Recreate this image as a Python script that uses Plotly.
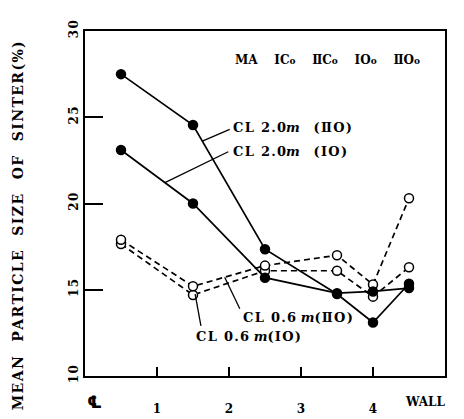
import numpy as np
import plotly.graph_objects as go

# ---- data ----
positions = [0.5, 1.5, 2.5, 3.5, 4.0, 4.5]
cl20_IIO = [27.5, 24.55, 17.35, 14.75, 13.1, 15.35]
cl20_IO = [23.1, 20.0, 15.7, 14.8, 14.9, 15.1]
cl06_IIO = [17.9, 15.2, 16.4, 17.0, 15.3, 20.3]
cl06_IO = [17.65, 14.7, 16.1, 16.1, 14.6, 16.3]
x_ticks = [1, 2, 3, 4]
x_tick_labels = ["1", "2", "3", "4"]
y_ticks = [10, 15, 20, 25, 30]
y_tick_labels = ["1\u200a0", "1\u200a5", "2\u200a0", "2\u200a5", "3\u200a0"]

FONT = "DejaVu Serif"
BLACK = "black"
HS = "\u200a"

def spaced(s):
    return HS.join(s)

fig = go.Figure()

def add_series(y, dashed, filled):
    fig.add_trace(go.Scatter(
        x=positions, y=y, mode="lines+markers",
        line=dict(color=BLACK, width=1.7, dash="6px,4px" if dashed else "solid"),
        marker=dict(size=9, symbol="circle",
                    color=BLACK if filled else "white",
                    line=dict(color=BLACK, width=1.5)),
        showlegend=False, hoverinfo="skip"))

add_series(cl06_IO, True, False)
add_series(cl06_IIO, True, False)
add_series(cl20_IO, False, True)
add_series(cl20_IIO, False, True)

def on_line(series, xv):
    return float(np.interp(xv, positions, series))

lab_font = dict(family=FONT, size=13, color=BLACK, weight="bold")
NB = "\u00a0"
lab20_II = spaced("CL" + NB + "2.0") + "<i>m</i>" + NB * 3 + spaced("(\u2161O)")
lab20_I = spaced("CL" + NB + "2.0") + "<i>m</i>" + NB * 3 + spaced("(\u2160O)")
lab06_II = spaced("CL" + NB + "0.6") + NB + "<i>m</i>" + spaced("(\u2161O)")
lab06_I = spaced("CL" + NB + "0.6") + NB + "<i>m</i>" + spaced("(\u2160O)")
# (series, x on line, x end, y end, text x, text y, text)
labels = [
    (cl20_IIO, 1.63, 2.01, 24.3, 2.03, 24.4, lab20_II),
    (cl20_IO, 1.11, 1.99, 23.0, 2.03, 23.0, lab20_I),
    (cl06_IIO, 1.94, 2.15, 13.9, 2.17, 13.4, lab06_II),
    (cl06_IO, 1.53, 1.61, 12.9, 1.52, 12.3, lab06_I),
]
for s, xl, xe, ye, tx, ty, txt in labels:
    fig.add_shape(type="line", x0=xl, y0=on_line(s, xl), x1=xe, y1=ye,
                  line=dict(color=BLACK, width=1.3))
    fig.add_annotation(x=tx, y=ty, text=txt, showarrow=False, xanchor="left",
                       yanchor="middle", font=lab_font)

sm = "<span style='font-size:9px'>o</span>"
gap = NB * 4
legend_txt = ("MA" + gap + "\u2160C" + sm + gap + "\u2161C" + sm +
              gap + "\u2160O" + sm + gap + "\u2161O" + sm)
fig.add_annotation(x=2.06, y=28.3, text=legend_txt, showarrow=False, xanchor="left",
                   yanchor="middle", font=dict(family=FONT, size=12, color=BLACK, weight="bold"))

# centreline and wall labels
fig.add_annotation(x=0.13, y=0, yref="paper", yshift=-38, text="\u2104", showarrow=False,
                   font=dict(family="DejaVu Sans", size=17, color=BLACK, weight="bold"))
fig.add_annotation(x=4.72, y=0, yref="paper", yshift=-35, text="WALL", showarrow=False,
                   font=dict(family=FONT, size=12, color=BLACK, weight="bold"))

title = spaced("MEAN") + NB * 3 + spaced("PARTICLE") + NB * 3 + spaced("SIZE") + NB * 3 + \
        spaced("OF") + NB * 3 + spaced("SINTER(%)")
fig.add_annotation(x=-0.185, y=0.435, xref="paper", yref="paper", text=title,
                   textangle=-90, showarrow=False, xanchor="center", yanchor="middle",
                   font=dict(family=FONT, size=14, color=BLACK, weight="bold"))

fig.update_xaxes(range=[0, 5], tickvals=x_ticks, ticktext=x_tick_labels,
                 ticks="inside", ticklen=9, tickwidth=1.5, tickcolor=BLACK,
                 showline=True, linewidth=1.7, linecolor=BLACK, mirror=True,
                 showgrid=False, zeroline=False, ticklabelstandoff=21,
                 tickfont=dict(family=FONT, size=12, color=BLACK, weight="bold"))
fig.update_yaxes(range=[10, 30], tickvals=y_ticks, ticktext=y_tick_labels,
                 ticks="inside", ticklen=18, tickwidth=1.5, tickcolor=BLACK,
                 showline=True, linewidth=1.7, linecolor=BLACK, mirror=True,
                 showgrid=False, zeroline=False, tickangle=-90,
                 tickfont=dict(family=FONT, size=12, color=BLACK, weight="bold"))

fig.update_layout(width=464, height=419, margin=dict(l=77, r=27, t=23, b=51),
                  paper_bgcolor="white", plot_bgcolor="white")

fig.write_html("out.html")
